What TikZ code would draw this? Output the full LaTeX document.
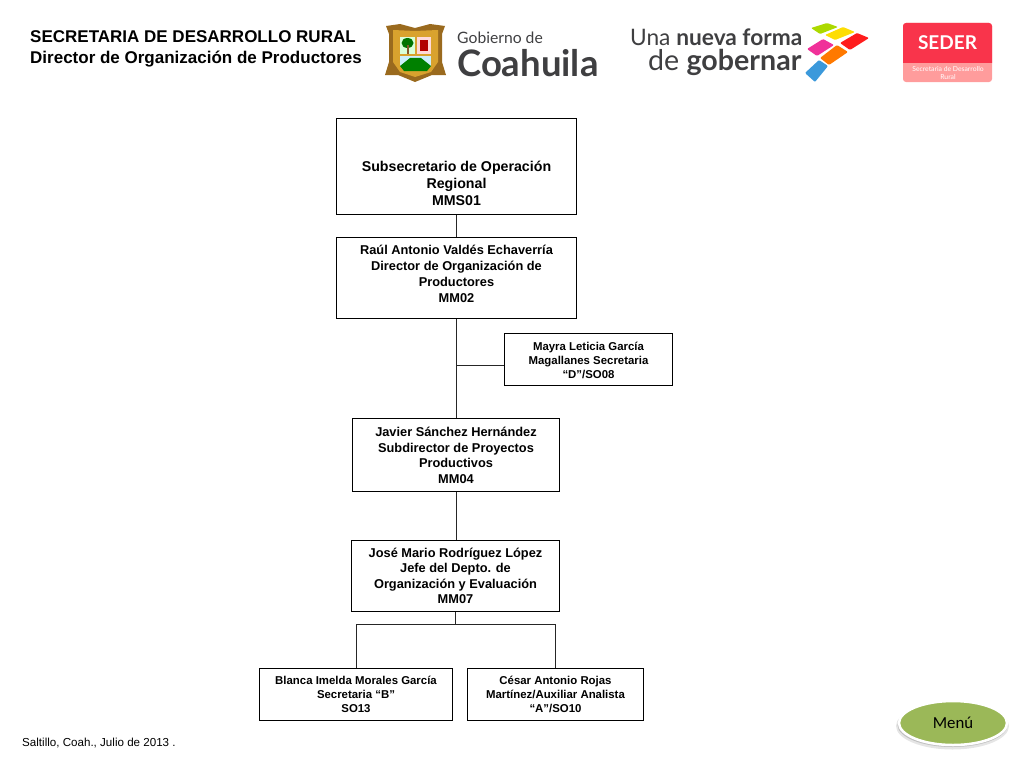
\documentclass[tikz,border=0pt]{standalone}
\usepackage{fontspec}
\setmainfont{Liberation Sans}
\newfontfamily\logofont{Lato}
\newfontfamily\menufont{Carlito}
\usetikzlibrary{shapes.geometric}
\definecolor{logogray}{HTML}{3F3F41}
\definecolor{sederred}{HTML}{F9344B}
\definecolor{sederpink}{HTML}{FF9C9C}
\definecolor{menugreen}{HTML}{9BB858}
\definecolor{shieldgold}{HTML}{D9A22E}
\definecolor{shieldbrown}{HTML}{9A6A1E}
\tikzset{
    orgbox/.style={draw=black, line width=1pt, fill=white, align=center, inner sep=0pt, font=\bfseries},
    orgline/.style={draw=black!85, line width=1pt},
    tile/.style={rounded corners=1pt}
}
\newcommand{\fs}[2]{\fontsize{#1}{#2}\selectfont}
\newcommand{\toppad}[1]{\rule{0pt}{#1pt}}

\begin{document}
\begin{tikzpicture}[x=1pt, y=-1pt]
    \useasboundingbox (0,0) rectangle (1024,768);

    % Title
    \node[anchor=west, align=left, inner sep=0pt, font=\bfseries\fs{17}{21}] (title) at (30, 49) {SECRETARIA DE DESARROLLO RURAL\\Director de Organización de Productores};

    % Coahuila logo
    \fill[shieldbrown] (386,26) -- (400,24) -- (415,28) -- (430,24) -- (445,26) -- (442,34) -- (442,62) -- (446,75) -- (432,75) -- (415,82) -- (398,75) -- (385,75) -- (389,62) -- (389,34) -- cycle;
    \fill[shieldgold] (393,30) -- (415,31) -- (438,30) -- (438,62) -- (431,72) -- (415,77) -- (400,72) -- (393,62) -- cycle;
    \fill[white!85!green] (400,37) rectangle (415,54);
    \fill[green!45!black] (407.5,43) ellipse (6 and 5);
    \fill[brown!70!black] (406.5,45) rectangle (408.5,54);
    \fill[white!85!red] (417,37) rectangle (431,54);
    \fill[red!70!black] (420,40) rectangle (428,51);
    \fill[white!80!cyan] (400,56) rectangle (431,66);
    \fill[green!50!black] (400,66) -- (410,58) -- (421,58) -- (431,66) -- (427,71) -- (404,71) -- cycle;
    \node[anchor=west, inner sep=0pt, text=logogray, font=\logofont\fs{15.7}{16}] (gobierno) at (457, 38) {Gobierno de};
    \node[anchor=west, inner sep=0pt, text=logogray, font=\logofont\bfseries\fs{36.5}{37}] (coahuila) at (457, 63) {Coahuila};

    % Gobernar logo
    \node[anchor=west, inner sep=0pt, text=logogray, font=\logofont\fs{22.7}{23}] (una) at (630, 37) {Una \textbf{nueva forma}};
    \node[anchor=west, inner sep=0pt, text=logogray, font=\logofont\fs{28.6}{29}] (gobernar) at (648, 62) {de \textbf{gobernar}};
    \fill[tile, fill=lime!70!olive] (811,28) -- (827,23) -- (838,27) -- (820,34) -- cycle;
    \fill[tile, fill=yellow!80!orange] (825,35) -- (843,27) -- (855,32) -- (835,40) -- cycle;
    \fill[tile, fill=red!85!pink] (840,43) -- (857,33) -- (869,38) -- (850,50) -- cycle;
    \fill[tile, fill=magenta!75!pink] (807,49) -- (823,39) -- (834,45) -- (817,56) -- cycle;
    \fill[tile, fill=orange!95!red] (820,58) -- (837,45) -- (848,52) -- (829,65) -- cycle;
    \fill[tile, fill=cyan!70!blue!80] (805,73) -- (819,60) -- (828,66) -- (815,82) -- cycle;

    % SEDER logo
    \fill[sederpink, rounded corners=3pt] (903,23) rectangle (992,82);
    \fill[sederred, rounded corners=3pt] (903,23) rectangle (992,66);
    \fill[sederpink] (903,63) rectangle (992,70);
    \node[text=white, inner sep=0pt, font=\logofont\bfseries\fs{19}{20}] (seder) at (947.5, 43) {SEDER};
    \node[text=white, align=center, inner sep=0pt, font=\logofont\fs{6.8}{7.5}] (sederinfo) at (948, 73) {Secretaria de Desarrollo\\Rural};

    % Boxes
    \node[orgbox, minimum width=240, minimum height=96, font=\bfseries\fs{14.2}{17}] (subsec) at (456.5, 166.5) {\toppad{44.5}Subsecretario de Operación\\Regional\\MMS01};
    \node[orgbox, minimum width=240, minimum height=81, font=\bfseries\fs{12.8}{16}] (director) at (456.5, 278) {Raúl Antonio Valdés Echaverría\\Director de Organización de\\Productores\\MM02\\[-8pt]\mbox{}};
    \node[orgbox, minimum width=168, minimum height=52, font=\bfseries\fs{11.4}{13.7}] (mayra) at (588.5, 359.5) {\toppad{10}Mayra Leticia García\\Magallanes Secretaria\\“D”/SO08};
    \node[orgbox, minimum width=207, minimum height=73, font=\bfseries\fs{12.8}{15.4}] (javier) at (456, 455) {\toppad{10}Javier Sánchez Hernández\\Subdirector de Proyectos\\Productivos\\MM04};
    \node[orgbox, minimum width=208, minimum height=71, font=\bfseries\fs{12.8}{15.4}] (jose) at (455.5, 576) {José Mario Rodríguez López\\Jefe del Depto. de\\Organización y Evaluación\\MM07};
    \node[orgbox, minimum width=193, minimum height=52, font=\bfseries\fs{11.4}{14}] (blanca) at (356, 694.5) {\toppad{9}Blanca Imelda Morales García\\Secretaria “B”\\SO13};
    \node[orgbox, minimum width=176, minimum height=52, font=\bfseries\fs{11.4}{14}] (cesar) at (555.5, 694.5) {\toppad{9}César Antonio Rojas\\Martínez/Auxiliar Analista\\“A”/SO10};

    % Lines
    \coordinate (busjoin) at (455.5, 624.5);
    \coordinate (mayrajoin) at (456.5, 365.5);
    \draw[orgline] (subsec) -- (director);
    \draw[orgline] (director) -- (director |- javier.north);
    \draw[orgline] (director |- javier.south) -- (director |- jose.north);
    \draw[orgline] (mayrajoin) -- (mayrajoin -| mayra.west);
    \draw[orgline] (jose.south) -- (busjoin);
    \draw[orgline] (blanca.north) |- (busjoin) -| (cesar.north);

    % Menu button
    \fill[black!10] (952.5,726) ellipse (56.5 and 23.5);
    \fill[black!25] (952.5,725) ellipse (55 and 22);
    \node[ellipse, draw=white, line width=2.5pt, fill=menugreen, minimum width=108, minimum height=44, inner sep=0pt, font=\menufont\fs{16.8}{18}] (menu) at (953, 723) {Menú};

    % Footer
    \node[anchor=west, inner sep=0pt, font=\fs{11.6}{13}] (footer) at (22, 743) {Saltillo, Coah., Julio de 2013 .};
\end{tikzpicture}
\end{document}
